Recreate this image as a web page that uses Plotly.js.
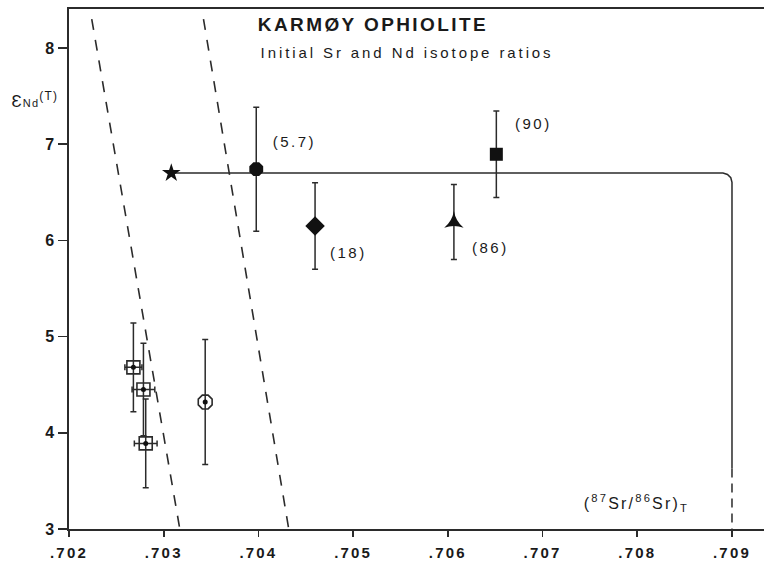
<!DOCTYPE html>
<html>
<head>
<meta charset="utf-8">
<script src="https://cdn.plot.ly/plotly-3.0.1.min.js"></script>
<style>
  html, body { margin: 0; padding: 0; background: #fff; }
  #chart { width: 764px; height: 563px; }
  .xtick text { letter-spacing: 2.2px; }
  .annotation[data-index="0"] text { letter-spacing: 2.4px; }
  .annotation[data-index="1"] text { letter-spacing: 2.9px; }
  .annotation[data-index="2"] text,
  .annotation[data-index="3"] text,
  .annotation[data-index="4"] text,
  .annotation[data-index="5"] text { letter-spacing: 2.5px; }
  .annotation[data-index="6"] text { letter-spacing: 2.2px; }
  .annotation[data-index="7"] text { letter-spacing: 1.2px; }
</style>
</head>
<body>
<div id="chart"></div>
<script>
// ---- Data ----
// Left cluster: open squares with dot
const srSquares = [0.70268, 0.702786, 0.70281];
const ndSquares = [4.68, 4.45, 3.89];
const ndSquaresErr = [0.46, 0.48, 0.46];
const srSquaresErr = [0.00009, 0.00012, 0.00012];

// Open octagon with dot
const srOpenOct = [0.703438];
const ndOpenOct = [4.32];
const ndOpenOctErr = [0.65];

// Labelled samples
const srHex = [0.703977];   const ndHex = [6.74];   const ndHexErr = [0.645];   // (5.7)
const srDiam = [0.704598];  const ndDiam = [6.15];  const ndDiamErr = [0.45];   // (18)
const srTri = [0.706064];   const ndTri = [6.19];   const ndTriErr = [0.39];    // (86)
const srSq = [0.706512];    const ndSq = [6.895];   const ndSqErr = [0.45];     // (90)

// Star (mantle) and seawater-alteration curve
const srStar = [0.70308];
const ndStar = [6.70];
const curveSr = [0.70308, 0.708905, 0.7089525, 0.7089874, 0.709, 0.709];
const curveNd = [6.70, 6.70, 6.685, 6.651, 6.604, 3.63];
const curveDashSr = [0.709, 0.709];
const curveDashNd = [3.63, 3.0];

// Dashed boundary lines
const dash1Sr = [0.70224, 0.70317];
const dash1Nd = [8.30, 3.0];
const dash2Sr = [0.70342, 0.70432];
const dash2Nd = [8.30, 3.0];

// Axis ticks
const xTickVals = [0.702, 0.703, 0.704, 0.705, 0.706, 0.707, 0.708, 0.709];
const xTickText = ['.702', '.703', '.704', '.705', '.706', '.707', '.708', '.709'];
const yTickVals = [3, 4, 5, 6, 7, 8];
const yTickText = ['3', '4', '5', '6', '7', '8'];

// Point labels (centre positions)
const labelText = ['(5.7)', '(18)', '(86)', '(90)'];
const labelSr = [0.704379, 0.704950, 0.706452, 0.706906];
const labelNd = [7.033, 5.869, 5.921, 7.22];

const ink = '#2b2b2b';
const errStyle = (arr) => ({ type: 'data', array: arr, visible: true, color: ink, thickness: 1.5, width: 3 });

const traces = [
  { x: dash1Sr, y: dash1Nd, mode: 'lines', line: { color: ink, width: 1.6, dash: '11px,10px' }, hoverinfo: 'skip' },
  { x: dash2Sr, y: dash2Nd, mode: 'lines', line: { color: ink, width: 1.6, dash: '11px,10px' }, hoverinfo: 'skip' },
  { x: curveSr, y: curveNd, mode: 'lines', line: { color: ink, width: 1.5 }, hoverinfo: 'skip' },
  { x: curveDashSr, y: curveDashNd, mode: 'lines', line: { color: ink, width: 1.5, dash: '9px,6px' }, hoverinfo: 'skip' },
  { x: srStar, y: ndStar, mode: 'markers', marker: { symbol: 'star', size: 14, color: '#111' } },
  { x: srSquares, y: ndSquares, mode: 'markers',
    error_y: errStyle(ndSquaresErr), error_x: errStyle(srSquaresErr),
    marker: { symbol: 'square-open', size: 13, color: ink, line: { width: 1.6, color: ink } } },
  { x: srSquares, y: ndSquares, mode: 'markers', marker: { symbol: 'circle', size: 5, color: '#111' } },
  { x: srOpenOct, y: ndOpenOct, mode: 'markers', error_y: errStyle(ndOpenOctErr),
    marker: { symbol: 'octagon-open', size: 15, color: ink, line: { width: 1.6, color: ink } } },
  { x: srOpenOct, y: ndOpenOct, mode: 'markers', marker: { symbol: 'circle', size: 5, color: '#111' } },
  { x: srHex, y: ndHex, mode: 'markers', error_y: errStyle(ndHexErr),
    marker: { symbol: 'octagon', size: 15, color: '#111' } },
  { x: srDiam, y: ndDiam, mode: 'markers', error_y: errStyle(ndDiamErr),
    marker: { symbol: 'diamond', size: 15, color: '#111' } },
  { x: srTri, y: ndTri, mode: 'markers', error_y: errStyle(ndTriErr),
    marker: { symbol: 'star-triangle-up', size: 14, color: '#111' } },
  { x: srSq, y: ndSq, mode: 'markers', error_y: errStyle(ndSqErr),
    marker: { symbol: 'square', size: 13, color: '#111' } }
];

const baseFont = { family: 'Liberation Sans, Arial, Helvetica, sans-serif', color: '#1a1a1a' };

const annotations = [
  { text: '<b>KARMØY OPHIOLITE</b>', xref: 'paper', yref: 'paper', x: 0.4367, y: 0.9703,
    xanchor: 'center', yanchor: 'middle', showarrow: false, font: Object.assign({}, baseFont, { size: 19 }) },
  { text: 'Initial Sr and Nd isotope ratios', xref: 'paper', yref: 'paper', x: 0.4863, y: 0.9165,
    xanchor: 'center', yanchor: 'middle', showarrow: false, font: Object.assign({}, baseFont, { size: 15 }) }
];
labelText.forEach((t, i) => {
  annotations.push({ text: t, x: labelSr[i], y: labelNd[i], xref: 'x', yref: 'y',
    xanchor: 'center', yanchor: 'middle', showarrow: false,
    font: Object.assign({}, baseFont, { size: 15 }) });
});
annotations.push({ text: '(<sup>87</sup>Sr/<sup>86</sup>Sr)<sub>T</sub>', xref: 'paper', yref: 'paper',
  x: 0.816, y: 0.05, xanchor: 'center', yanchor: 'middle', showarrow: false,
  font: Object.assign({}, baseFont, { size: 16 }) });
annotations.push({ text: 'Ɛ<span style="font-size:11px">Nd</span><sup>(T)</sup>', xref: 'paper', yref: 'paper',
  x: -0.049, y: 0.825, xanchor: 'center', yanchor: 'middle', showarrow: false,
  font: Object.assign({}, baseFont, { size: 17 }) });

const layout = {
  width: 764, height: 563,
  margin: { l: 69, r: 0, t: 9, b: 34, pad: 0 },
  paper_bgcolor: '#ffffff', plot_bgcolor: '#ffffff',
  showlegend: false,
  font: baseFont,
  xaxis: {
    range: [0.702, 0.709338], showgrid: false, zeroline: false,
    showline: true, linecolor: ink, linewidth: 1.6, mirror: true,
    ticks: 'outside', ticklen: 6, tickwidth: 1.6, tickcolor: ink,
    tickvals: xTickVals, ticktext: xTickText, ticklabelstandoff: 3,
    tickfont: Object.assign({}, baseFont, { size: 15, weight: 'bold' })
  },
  yaxis: {
    range: [3, 8.405], showgrid: false, zeroline: false,
    showline: true, linecolor: ink, linewidth: 1.6,
    ticks: 'outside', ticklen: 9, tickwidth: 1.6, tickcolor: ink,
    tickvals: yTickVals, ticktext: yTickText, ticklabelstandoff: 1,
    tickfont: Object.assign({}, baseFont, { size: 16, weight: 'bold' })
  },
  annotations: annotations
};

Plotly.newPlot('chart', traces, layout, { displayModeBar: false, staticPlot: true });
</script>
</body>
</html>
